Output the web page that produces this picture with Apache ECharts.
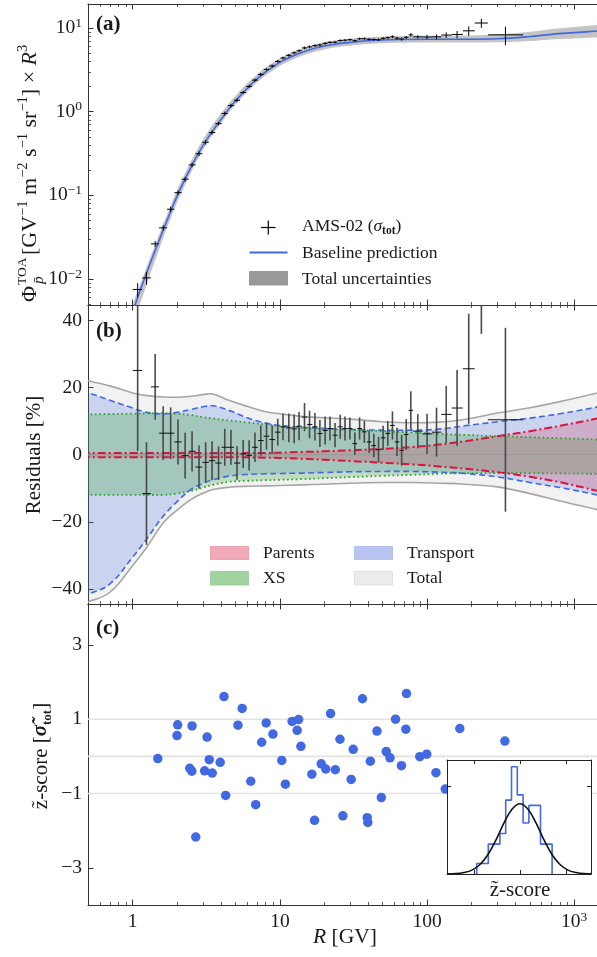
<!DOCTYPE html>
<html>
<head>
<meta charset="utf-8">
<script src="https://cdn.jsdelivr.net/npm/echarts@6.0.0/dist/echarts.min.js"></script>
<style>
html,body{margin:0;padding:0;background:#fff;}
#chart{width:597px;height:957px;}
</style>
</head>
<body>
<div id="chart"></div>
<script>
// ---------------- data ----------------
const binEdges = [1.00,1.16,1.33,1.51,1.71,1.92,2.15,2.40,2.67,2.97,3.29,3.64,4.02,4.43,4.88,5.37,5.90,6.47,7.09,7.76,8.48,9.26,10.1,11.0,12.0,13.0,14.1,15.3,16.6,18.0,19.5,21.1,22.8,24.7,26.7,28.8,31.1,33.5,36.1,38.9,41.9,45.1,48.5,52.2,56.1,60.3,64.8,69.7,74.9,80.5,93.0,108,125,147,175,211,259,450];
const binCenters = [1.08,1.24,1.42,1.61,1.81,2.03,2.27,2.53,2.82,3.13,3.46,3.83,4.22,4.65,5.11,5.63,6.18,6.77,7.42,8.11,8.86,9.67,10.5,11.5,12.5,13.5,14.7,15.9,17.3,18.7,20.3,21.9,23.7,25.7,27.7,29.9,32.3,34.8,37.5,40.4,43.5,46.8,50.3,54.1,58.2,62.5,67.2,72.2,77.6,86.5,100,116,135,160,192,234,341];
const fluxValues = [0.00749,0.0103,0.0263,0.0409,0.0682,0.1075,0.1558,0.2311,0.3143,0.4308,0.5633,0.720,0.9505,1.181,1.367,1.694,2.003,2.382,2.787,3.197,3.522,3.987,4.380,4.717,5.051,5.349,5.787,5.957,6.156,6.265,6.547,6.734,6.768,7.077,7.147,7.255,7.048,7.439,7.456,7.323,7.285,7.236,7.523,7.655,7.870,7.557,7.385,7.738,8.275,7.843,7.806,7.842,8.232,8.372,9.257,11.47,8.28];
const fluxErrors = [0.00144,0.00179,0.00214,0.00307,0.00494,0.00694,0.0106,0.0137,0.0209,0.0265,0.0333,0.0369,0.0512,0.0601,0.0701,0.0710,0.0903,0.103,0.120,0.121,0.145,0.150,0.162,0.188,0.202,0.207,0.219,0.224,0.233,0.236,0.257,0.225,0.230,0.235,0.239,0.222,0.225,0.228,0.230,0.233,0.248,0.271,0.258,0.266,0.304,0.306,0.335,0.336,0.417,0.374,0.441,0.537,0.625,0.831,1.21,1.41,2.06];
const residuals = [25.1,-11.6,20.2,6.4,6.4,3.8,-0.3,1.0,-3.7,-2.3,-1.8,-2.5,2.2,2.2,-2.5,0.2,-0.2,2.2,4.2,5.5,4.5,6.7,8.3,8.0,7.7,8.5,11.2,9.0,8.3,6.3,7.2,7.8,5.8,8.3,7.8,7.8,3.3,7.8,6.8,3.8,2.7,1.5,5.0,6.3,8.7,3.8,1.3,6.0,13.2,7.0,6.2,6.7,12.0,13.9,25.6,55,10.4];
const residualErrors = [24,15.3,9.8,8,7.7,6.7,6.8,6,6.4,6,5.8,5,5.5,5.2,5,4.2,4.5,4.4,4.5,4,4.3,4,4,4.3,4.3,4.2,4.2,4.1,4.1,4.0,4.2,3.6,3.6,3.6,3.6,3.3,3.3,3.3,3.3,3.3,3.5,3.8,3.6,3.7,4.2,4.2,4.6,4.6,5.7,5.1,6.0,7.3,8.5,11.3,16.4,19,27.4];

const modelR = [1.0,1.1,1.2,1.3,1.4,1.5,1.7,2.0,2.2,2.5,2.8,3.2,3.7,4.2,4.8,5.5,6.2,7,8,9,10,12.6,15.8,20,25,31.6,40,63,100,178,300,500,700,1000,1440,1600];
const modelFlux = [0.0040,0.0066,0.0100,0.0146,0.0205,0.0280,0.0490,0.0980,0.140,0.220,0.320,0.470,0.680,0.920,1.24,1.62,2.02,2.46,2.98,3.45,3.88,4.72,5.45,6.08,6.50,6.80,7.05,7.28,7.35,7.35,7.45,7.9,8.4,8.8,9.2,9.3];
const modelBandLo = [0.00268,0.00455,0.00707,0.01073,0.01554,0.02178,0.03945,0.0818,0.1189,0.1907,0.2810,0.4183,0.6106,0.8289,1.121,1.466,1.830,2.230,2.703,3.131,3.523,4.290,4.960,5.545,5.938,6.222,6.458,6.676,6.733,6.703,6.735,6.984,7.300,7.489,7.691,7.719];
const modelBandHi = [0.00474,0.00779,0.01178,0.01716,0.02407,0.03284,0.05743,0.1148,0.1641,0.2583,0.3766,0.5546,0.8004,1.075,1.435,1.863,2.303,2.790,3.361,3.881,4.353,5.268,6.060,6.749,7.202,7.514,7.769,7.979,8.056,8.122,8.374,9.006,9.677,10.28,10.89,11.07];

const bandR = [0.45,0.5,0.7,1.0,1.25,1.6,2.0,2.5,3.0,3.5,4.5,6,8,10,14,20,30,50,80,120,180,300,500,800,1440,1600];
const totalHi = [22.3,22,20.5,18.4,17.6,17.2,17.1,17.4,17.9,18.1,16.2,14.4,12.8,12.2,11.4,11.0,10.6,9.8,9.5,9.7,10.5,12.4,14.0,15.8,18.4,19.0];
const totalLo = [-44,-43.8,-41,-33,-27.5,-20.5,-16.5,-13.3,-11.5,-10.4,-9.7,-9.4,-9.3,-9.2,-9.0,-8.8,-8.5,-8.3,-8.3,-8.5,-8.8,-9.6,-11.6,-13.8,-16.4,-17];
const transportHi = [18.6,18.4,16.2,13.9,12.6,12.1,12.6,13.5,14.3,14.6,13.2,11.0,9.4,8.7,8.2,7.8,7.5,7.3,7.3,7.6,8.6,9.8,10.9,12.2,14.2,14.6];
const transportLo = [-41.6,-41.5,-38.5,-30.5,-25,-18.5,-14,-10.3,-8.6,-7.5,-6.4,-5.9,-5.7,-5.6,-5.5,-5.3,-5.1,-5.0,-5.0,-5.2,-5.6,-6.6,-8.3,-9.8,-12,-12.5];
const xsHi = [12,12,12.1,12.2,12.3,12.4,12.2,11.8,11.2,10.8,10.2,9.6,9.0,8.5,8.0,7.7,7.4,7.0,6.6,6.2,5.9,5.5,5.2,4.9,4.5,4.4];
const xsLo = [-12,-12,-12,-12,-12,-12,-11.6,-10.8,-9.8,-9.0,-8.1,-7.8,-7.6,-7.5,-7.3,-7.0,-6.7,-6.3,-6.0,-5.7,-5.5,-5.5,-5.5,-5.6,-5.7,-5.7];
const parentsHi = [0.5,0.5,0.5,0.5,0.5,0.5,0.5,0.5,0.5,0.5,0.5,0.5,0.5,0.6,0.8,1.0,1.3,1.7,2.3,3.0,4.0,5.5,7.0,8.6,10.8,11.3];
const parentsLo = [-0.8,-0.8,-0.8,-0.8,-0.8,-0.8,-0.8,-0.8,-0.8,-0.8,-0.8,-0.8,-0.9,-1.0,-1.2,-1.5,-1.9,-2.4,-2.9,-3.5,-4.2,-5.2,-6.6,-8.2,-10.8,-11.3];

const zR = [1.48,2.02,2.00,2.53,2.44,2.52,2.68,3.20,3.08,3.31,3.47,3.93,4.17,4.28,5.19,5.54,6.34,6.85,7.52,8.07,8.97,10.3,10.9,12.1,13.4,13.1,13.9,16.5,17.2,19.1,20.5,22.1,23.8,25.6,26.8,30.5,31.5,36.4,39.2,39.6,41.2,45.7,48.9,52.8,56.0,61.1,67.0,71.8,72.5,89.3,99.5,115,133,167,338];
const zScore = [-0.06,0.85,0.56,0.82,-0.32,-0.40,-2.17,0.52,-0.39,-0.09,-0.45,-0.16,1.61,-1.05,0.84,1.29,-0.67,-1.30,0.38,0.90,0.60,-0.11,-0.75,0.94,0.99,0.70,0.27,-0.48,-1.72,-0.20,-0.34,1.15,-0.36,0.46,-1.60,-0.62,0.19,1.55,-1.65,-1.78,-0.13,0.68,-1.11,0.13,-0.04,1.00,-0.25,0.73,1.69,-0.01,0.06,-0.44,-0.88,0.75,0.41];
const zRefLines = [1, 0, -1];

const histEdges = [-2.165,-1.875,-1.585,-1.295,-1.005,-0.715,-0.425,-0.135,0.155,0.445,0.735,1.025,1.315,1.605];
const histDensity = [0.06,0.06,0.17,0.17,0.23,0.42,0.61,0.45,0.29,0.39,0.39,0.17,0.17];
const gaussX = [-3.6,-3.2,-2.8,-2.4,-2.0,-1.6,-1.2,-0.8,-0.4,0,0.4,0.8,1.2,1.6,2.0,2.4,2.8,3.2,3.6];
const gaussY = [0.001,0.002,0.008,0.022,0.054,0.111,0.194,0.290,0.368,0.399,0.368,0.290,0.194,0.111,0.054,0.022,0.008,0.002,0.001];

const xTickValues = [1, 10, 100, 1000];
const xTickText = ['1', '10', '100', '10^3'];
const fluxTickValues = [0.01, 0.1, 1, 10];
const fluxTickText = ['10^\u22122', '10^\u22121', '10^0', '10^1'];
const residualTickValues = [-40, -20, 0, 20, 40];
const residualTickText = ['\u221240', '\u221220', '0', '20', '40'];
const zTickValues = [-3, -1, 1, 3];
const zTickText = ['\u22123', '\u22121', '1', '3'];
const insetXTicks = [-2.3, 0, 2.3];
const insetYTicks = [0.5];

// ---------------- layout / style ----------------
const FF = '"Liberation Serif","DejaVu Serif",serif';
const AX = '#333';
const TXT = '#1a1a1a';
const L = Math.log10;
const X_MIN = -0.304, X_MAX = 3.155;
const FLUX_MIN = -2.311, FLUX_MAX = 1.287;
const RES_MIN = -44.5, RES_MAX = 44.6;
const Z_MIN = -4.0, Z_MAX = 4.1;
const IX_MIN = -3.65, IX_MAX = 3.55, IY_MAX = 0.648;
const SM = 0.4;

function richify(s) {
  const i = s.indexOf('^');
  return i < 0 ? s : '{b|' + s.slice(0, i) + '}{s|' + s.slice(i + 1) + '}';
}
function labelFrom(values, texts, tf) {
  return function (v) {
    for (let i = 0; i < values.length; i++) {
      if (Math.abs(tf(values[i]) - v) < 1e-6) return richify(texts[i]);
    }
    return '';
  };
}
const ident = v => v;
const LBL_RICH = {
  b: {fontFamily: FF, fontSize: 19.5, color: TXT, lineHeight: 24},
  s: {fontFamily: FF, fontSize: 13.5, color: TXT, verticalAlign: 'top', lineHeight: 13}
};

const xMajorL = xTickValues.map(L);
const xMinorL = [];
for (let e = -1; e <= 3; e++) for (let k = 2; k <= 9; k++) {
  const v = k * Math.pow(10, e); const lv = L(v);
  if (lv >= X_MIN && lv <= X_MAX) xMinorL.push(lv);
}
const yMinorA = [];
for (let e = -3; e <= 1; e++) for (let k = 2; k <= 9; k++) {
  const lv = L(k * Math.pow(10, e));
  if (lv >= FLUX_MIN && lv <= FLUX_MAX) yMinorA.push(lv);
}

const lineOn = {show: true, onZero: false, lineStyle: {color: AX, width: 1}};
const lineOff = {show: false, onZero: false};
function tickMaj(vals) { return {show: true, inside: true, length: 5.5, customValues: vals, lineStyle: {color: AX, width: 1}}; }
function tickMin(vals) { return {show: true, inside: true, length: 3, customValues: vals, lineStyle: {color: AX, width: 0.8}}; }

function mkX(g, labels) {
  const c = {type: 'value', gridIndex: g, min: X_MIN, max: X_MAX, splitLine: {show: false}};
  return [
    Object.assign({}, c, {position: 'bottom', axisLine: lineOn, axisTick: tickMaj(xMajorL),
      axisLabel: labels ? {show: true, customValues: xMajorL, margin: 5, fontFamily: FF, fontSize: 19.5, color: TXT, lineHeight: 24,
        formatter: labelFrom(xTickValues, xTickText, L), rich: LBL_RICH} : {show: false}}),
    Object.assign({}, c, {position: 'bottom', axisLine: lineOff, axisTick: tickMin(xMinorL), axisLabel: {show: false}}),
    Object.assign({}, c, {position: 'top', axisLine: lineOn, axisTick: tickMaj(xMajorL), axisLabel: {show: false}}),
    Object.assign({}, c, {position: 'top', axisLine: lineOff, axisTick: tickMin(xMinorL), axisLabel: {show: false}})
  ];
}
function insetX(pos) {
  return {type: 'value', gridIndex: 3, min: IX_MIN, max: IX_MAX, position: pos, z: 12,
    axisLine: {show: true, onZero: false, lineStyle: {color: '#222', width: 1}},
    axisTick: {show: true, inside: true, length: 4, customValues: insetXTicks, lineStyle: {color: '#222'}},
    axisLabel: {show: false}, splitLine: {show: false}};
}
function insetY(pos) {
  return {type: 'value', gridIndex: 3, min: 0, max: IY_MAX, position: pos, z: 12,
    axisLine: {show: true, onZero: false, lineStyle: {color: '#222', width: 1}},
    axisTick: {show: true, inside: true, length: 4, customValues: insetYTicks, lineStyle: {color: '#222'}},
    axisLabel: {show: false}, splitLine: {show: false}};
}
function mkY(g, min, max, vals, texts, tf) {
  const tv = vals.map(tf);
  return {type: 'value', gridIndex: g, min, max, position: 'left', axisLine: lineOn, axisTick: tickMaj(tv),
    axisLabel: {show: true, customValues: tv, margin: 6, fontFamily: FF, fontSize: 19.5, color: TXT, lineHeight: 24,
      formatter: labelFrom(vals, texts, tf), rich: LBL_RICH},
    splitLine: {show: false}};
}

// ---------------- series helpers ----------------
function bandFill(xi, yi, rs, lo, hi, fill, z, tf) {
  const pts = rs.map((r, i) => [L(r), tf(lo[i]), tf(hi[i])]);
  return {type: 'custom', xAxisIndex: xi, yAxisIndex: yi, z, silent: true, clip: true, data: pts,
    renderItem: (params, api) => {
      if (params.dataIndex !== 0) return null;
      const up = pts.map(p => api.coord([p[0], p[2]]));
      const dn = pts.map(p => api.coord([p[0], p[1]])).reverse();
      return {type: 'polygon', shape: {points: up.concat(dn), smooth: SM}, style: {fill}};
    }};
}
function bandEdges(xi, yi, rs, lo, hi, st, z, tf) {
  const pts = rs.map((r, i) => [L(r), tf(lo[i]), tf(hi[i])]);
  return {type: 'custom', xAxisIndex: xi, yAxisIndex: yi, z, silent: true, clip: true, data: pts,
    renderItem: (params, api) => {
      if (params.dataIndex !== 0) return null;
      const up = pts.map(p => api.coord([p[0], p[2]]));
      const dn = pts.map(p => api.coord([p[0], p[1]]));
      return {type: 'group', children: [
        {type: 'polyline', shape: {points: up, smooth: SM}, style: Object.assign({fill: 'none'}, st)},
        {type: 'polyline', shape: {points: dn, smooth: SM}, style: Object.assign({fill: 'none'}, st)}
      ]};
    }};
}
function errorBars(xi, yi, rows, vSt, hSt, z) {
  return {type: 'custom', xAxisIndex: xi, yAxisIndex: yi, z, silent: true, clip: true, data: rows,
    renderItem: (params, api) => {
      const xc = api.value(0), y = api.value(1);
      const a = api.coord([api.value(2), y]), b = api.coord([api.value(3), y]);
      const c = api.coord([xc, api.value(4)]), d = api.coord([xc, api.value(5)]);
      return {type: 'group', children: [
        {type: 'line', shape: {x1: c[0], y1: c[1], x2: d[0], y2: d[1]}, style: Object.assign({}, vSt)},
        {type: 'line', shape: {x1: a[0], y1: a[1], x2: b[0], y2: b[1]}, style: Object.assign({}, hSt)}
      ]};
    }};
}
function hLines(xi, yi, vals, st, z) {
  return {type: 'custom', xAxisIndex: xi, yAxisIndex: yi, z, silent: true, data: vals.map(v => [0, v]),
    renderItem: (params, api) => {
      const cs = params.coordSys;
      const y = api.coord([0, api.value(1)])[1];
      return {type: 'line', shape: {x1: cs.x, y1: y, x2: cs.x + cs.width, y2: y}, style: Object.assign({}, st)};
    }};
}

const fluxRows = binCenters.map((r, i) => [L(r), L(fluxValues[i]), L(binEdges[i]), L(binEdges[i + 1]),
  L(fluxValues[i] - fluxErrors[i]), L(fluxValues[i] + fluxErrors[i])]);
const resRows = binCenters.map((r, i) => [L(r), residuals[i], L(binEdges[i]), L(binEdges[i + 1]),
  residuals[i] - residualErrors[i], residuals[i] + residualErrors[i]]);
const histPts = [[histEdges[0], 0]];
histDensity.forEach((h, i) => { histPts.push([histEdges[i], h]); histPts.push([histEdges[i + 1], h]); });
histPts.push([histEdges[histEdges.length - 1], 0]);

// ---------------- graphic (labels, legends) ----------------
function T(x, y, text, o) {
  return {type: 'text', x, y, z: 100, silent: true, style: Object.assign({text, fontFamily: FF, fontSize: 17.5, fill: TXT,
    align: 'left', textAlign: 'left', verticalAlign: 'middle', textVerticalAlign: 'middle'}, o || {})};
}
const supS = (fs, lh) => ({fontFamily: FF, fontSize: fs, fill: TXT, color: TXT, verticalAlign: 'top', lineHeight: lh});
const subS = (fs, lh, bold) => ({fontFamily: FF, fontSize: fs, fill: TXT, color: TXT, verticalAlign: 'bottom', lineHeight: lh, fontWeight: bold ? 'bold' : 'normal'});

const labelB = T(34, 455, 'Residuals [%]', {fontSize: 21, align: 'center', textAlign: 'center'});
labelB.rotation = Math.PI / 2;
const labelC = T(41, 756, 'z\u0303-score [{g|\u03C3\u0303}{t|tot}]', {fontSize: 21, align: 'center', textAlign: 'center', lineHeight: 27,
  rich: {g: {fontFamily: FF, fontSize: 21, fontWeight: 'bold', fontStyle: 'italic', fill: TXT, lineHeight: 27}, t: subS(13, 13, true)}});
labelC.rotation = Math.PI / 2;

const graphics = [
  // panel letters
  T(96, 25, '(a)', {fontSize: 21, fontWeight: 'bold'}),
  T(96, 332, '(b)', {fontSize: 21, fontWeight: 'bold'}),
  T(96, 629, '(c)', {fontSize: 21, fontWeight: 'bold'}),
  // y label (a)
  {type: 'group', x: 30, y: 160, rotation: Math.PI / 2, z: 100, children: [
    T(-142, 0, '\u03A6', {fontSize: 22}),
    T(-125, -7.5, 'TOA', {fontSize: 13.5}),
    T(-124, 8.5, 'p\u0304', {fontSize: 15.5, fontStyle: 'italic'}),
    T(-95, 0, '[GV{s|\u22121} m{s|\u22122} s{s|\u22121} sr{s|\u22121}] \u00D7 {i|R}{s|3}', {fontSize: 22, lineHeight: 28,
      rich: {s: supS(14.5, 14), i: {fontFamily: FF, fontSize: 22, fontStyle: 'italic', fill: TXT, lineHeight: 28}}})
  ]},
  labelB,
  labelC,
  // x label
  T(345, 937, '{i|R} [GV]', {fontSize: 21.5, align: 'center', textAlign: 'center',
    rich: {i: {fontFamily: FF, fontSize: 21.5, fontStyle: 'italic', fill: TXT}}}),
  // inset label
  T(520, 890, 'z\u0303-score', {fontSize: 21, align: 'center', textAlign: 'center'}),
  // legend (a)
  {type: 'line', z: 100, shape: {x1: 261, y1: 227.5, x2: 275.5, y2: 227.5}, style: {stroke: '#000', lineWidth: 1.2}},
  {type: 'line', z: 100, shape: {x1: 268.3, y1: 220.5, x2: 268.3, y2: 234.5}, style: {stroke: '#000', lineWidth: 1.2}},
  {type: 'line', z: 100, shape: {x1: 249.5, y1: 252.5, x2: 287.5, y2: 252.5}, style: {stroke: '#4169e1', lineWidth: 1.8}},
  {type: 'rect', z: 100, shape: {x: 249.5, y: 271.5, width: 38, height: 13.5}, style: {fill: '#999', stroke: '#8c8c8c', lineWidth: 0.8}},
  T(302, 226, 'AMS-02 ({g|\u03C3}{t|tot})', {lineHeight: 22,
    rich: {g: {fontFamily: FF, fontSize: 17.5, fontStyle: 'italic', fill: TXT, lineHeight: 22}, t: subS(11.5, 11, true)}}),
  T(302, 253, 'Baseline prediction'),
  T(302, 279, 'Total uncertainties'),
  // legend (b)
  {type: 'rect', z: 100, shape: {x: 210.5, y: 546.5, width: 38, height: 13}, style: {fill: '#f1a9b8', stroke: '#eb97a9', lineWidth: 0.8}},
  {type: 'rect', z: 100, shape: {x: 210.5, y: 571.5, width: 38, height: 13.5}, style: {fill: '#a0d3a0', stroke: '#8fc98f', lineWidth: 0.8}},
  {type: 'rect', z: 100, shape: {x: 354.5, y: 546.5, width: 38, height: 13}, style: {fill: '#b8c5f1', stroke: '#a9b8ec', lineWidth: 0.8}},
  {type: 'rect', z: 100, shape: {x: 354.5, y: 571.5, width: 38, height: 13.5}, style: {fill: '#ececec', stroke: '#dcdcdc', lineWidth: 0.8}},
  T(263, 553, 'Parents'),
  T(263, 578.5, 'XS'),
  T(407, 553, 'Transport'),
  T(407, 578.5, 'Total')
];

// ---------------- option ----------------
const option = {
  animation: false,
  backgroundColor: '#fff',
  textStyle: {fontFamily: FF},
  grid: [
    {left: 88, top: 4, width: 512, height: 301, show: false},
    {left: 88, top: 305, width: 512, height: 299, show: false},
    {left: 88, top: 604, width: 512, height: 301, show: false},
    {left: 447, top: 760, width: 144, height: 114, show: true, backgroundColor: '#fff', borderWidth: 0, z: 10}
  ],
  xAxis: [].concat(mkX(0, false), mkX(1, false), mkX(2, true), [insetX('bottom'), insetX('top')]),
  yAxis: [
    mkY(0, FLUX_MIN, FLUX_MAX, fluxTickValues, fluxTickText, L),
    {type: 'value', gridIndex: 0, min: FLUX_MIN, max: FLUX_MAX, position: 'left', axisLine: lineOff, axisTick: tickMin(yMinorA), axisLabel: {show: false}, splitLine: {show: false}},
    mkY(1, RES_MIN, RES_MAX, residualTickValues, residualTickText, ident),
    mkY(2, Z_MIN, Z_MAX, zTickValues, zTickText, ident),
    insetY('left'),
    insetY('right')
  ],
  series: [
    // ---- panel (a)
    bandFill(0, 0, modelR, modelBandLo, modelBandHi, 'rgba(115,115,115,0.42)', 1, L),
    {type: 'line', xAxisIndex: 0, yAxisIndex: 0, z: 3, silent: true, clip: true, symbol: 'none', smooth: SM,
      data: modelR.map((r, i) => [L(r), L(modelFlux[i])]), lineStyle: {color: '#4169e1', width: 1.6}},
    errorBars(0, 0, fluxRows, {stroke: '#000', lineWidth: 1}, {stroke: '#000', lineWidth: 1}, 4),
    // ---- panel (b)
    bandFill(4, 2, bandR, totalLo, totalHi, 'rgba(128,128,128,0.1)', 1, ident),
    bandFill(4, 2, bandR, transportLo, transportHi, 'rgba(65,105,225,0.22)', 1, ident),
    bandFill(4, 2, bandR, xsLo, xsHi, 'rgba(44,160,44,0.25)', 1, ident),
    bandFill(4, 2, bandR, parentsLo, parentsHi, 'rgba(220,20,60,0.2)', 1, ident),
    bandEdges(4, 2, bandR, totalLo, totalHi, {stroke: '#a6a6a6', lineWidth: 1.6}, 2, ident),
    bandEdges(4, 2, bandR, transportLo, transportHi, {stroke: '#4169e1', lineWidth: 1.6, lineDash: [6, 3.5]}, 2, ident),
    bandEdges(4, 2, bandR, xsLo, xsHi, {stroke: '#2ca02c', lineWidth: 1.8, lineDash: [1.6, 2.8]}, 2, ident),
    bandEdges(4, 2, bandR, parentsLo, parentsHi, {stroke: '#dc143c', lineWidth: 2, lineDash: [8, 3, 2, 3]}, 2, ident),
    hLines(4, 2, [0], {stroke: '#9a9a9a', lineWidth: 1}, 3),
    errorBars(4, 2, resRows, {stroke: '#4a4a4a', lineWidth: 1.6}, {stroke: '#111', lineWidth: 1}, 4),
    // ---- panel (c)
    hLines(8, 3, zRefLines, {stroke: '#e2e2e2', lineWidth: 1.6}, 1),
    {type: 'scatter', xAxisIndex: 8, yAxisIndex: 3, z: 3, silent: true, symbolSize: 9.5,
      data: zR.map((r, i) => [L(r), zScore[i]]), itemStyle: {color: '#4169e1', opacity: 1}},
    // ---- inset
    {type: 'line', xAxisIndex: 12, yAxisIndex: 4, z: 11, silent: true, symbol: 'none', data: histPts,
      lineStyle: {color: '#4169e1', width: 1.6}},
    {type: 'line', xAxisIndex: 12, yAxisIndex: 4, z: 11, silent: true, symbol: 'none', smooth: 0.4, clip: true,
      data: gaussX.map((x, i) => [x, gaussY[i]]), lineStyle: {color: '#111', width: 1.6}}
  ],
  graphic: {elements: graphics}
};

const chart = echarts.init(document.getElementById('chart'), null, {renderer: 'canvas'});
chart.setOption(option);
</script>
</body>
</html>
